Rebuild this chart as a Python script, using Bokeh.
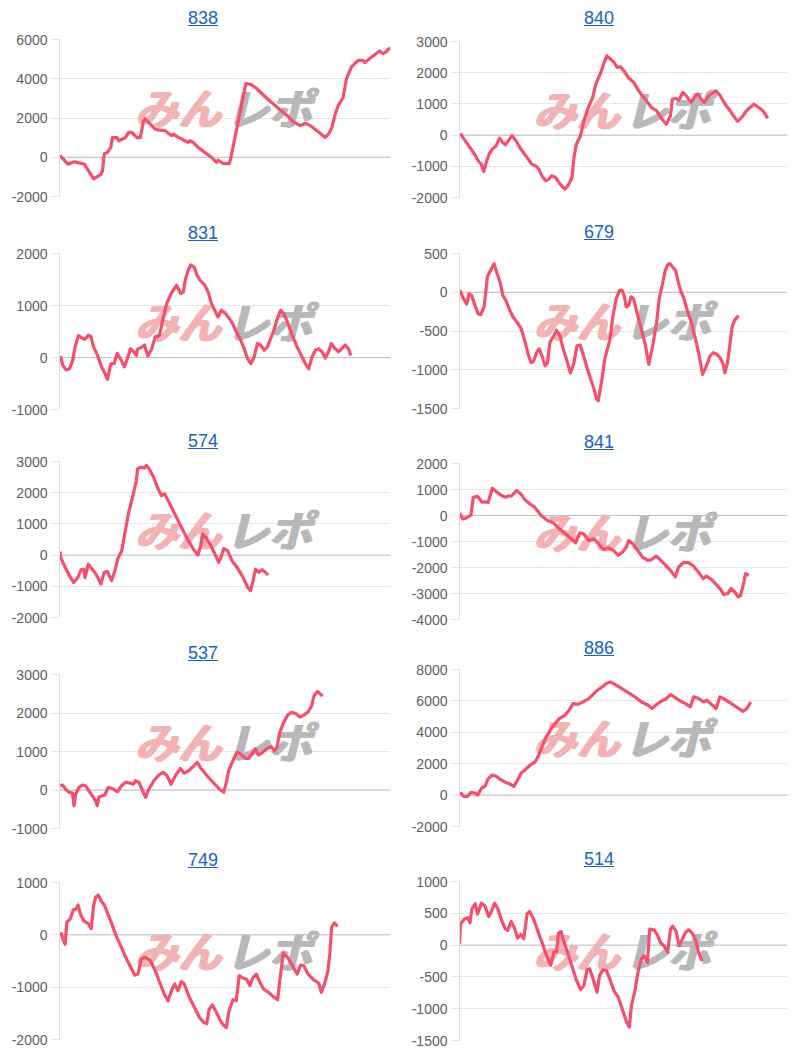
from bokeh.plotting import figure
from bokeh.layouts import column, row
from bokeh.models import Range1d, FixedTicker, Span, Label, Div, CustomJSTickFormatter
from bokeh.embed import file_html
from bokeh.resources import INLINE
import numpy as np

# ---------------- DATA ----------------
# x: progress through the day (% of the chart width), y: medal difference
X_838 = [0.2, 2.5, 4.5, 7.5, 10.3, 12.5, 13.0, 13.5, 14.5, 15.5, 16.0, 17.4, 17.9, 18.9, 19.9, 20.9, 21.9, 23.4,
         24.4, 25.4, 25.9, 27.4, 28.9, 29.9, 31.9, 33.9, 34.4, 35.9, 37.9, 38.9, 39.4, 40.4, 41.9, 43.9, 45.9,
         47.4, 47.9, 49.4, 51.3, 51.8, 56.3, 57.8, 59.3, 62.8, 65.8, 68.8, 70.8, 72.8, 74.3, 75.8, 77.8, 80.3,
         81.3, 82.3, 83.3, 84.2, 85.7, 86.7, 88.2, 90.2, 91.7, 92.2, 93.7, 95.7, 96.7, 97.7, 98.7, 99.2, 100.0]
Y_838 = [80, -350, -230, -350, -1100, -870, -690, 170, 250, 500, 1000, 1000, 840, 920, 1000, 1270, 1270, 1000,
         1000, 1860, 1950, 1690, 1440, 1390, 1350, 1100, 1180, 1010, 840, 760, 840, 760, 500, 250, 0,
         -260, -150, -320, -320, 0, 3750, 3710, 3540, 2980, 2540, 2120, 1780, 1610, 1730, 1610, 1350, 1010,
         1180, 1520, 2200, 2630, 3060, 4000, 4600, 4940, 4940, 4820, 5030, 5280, 5420, 5280, 5370, 5490, 5570]

X_840 = [0.2, 1.7, 3.2, 4.7, 5.7, 6.7, 7.4, 8.0, 9.0, 10.0, 11.2, 12.2, 13.2, 14.0, 15.0, 16.0, 17.2, 18.7, 20.2,
         22.0, 23.2, 24.2, 25.1, 26.3, 27.3, 28.1, 29.3, 30.5, 32.1, 33.1, 34.3, 34.9, 35.6, 36.9, 37.9, 39.1,
         40.6, 41.6, 42.9, 44.1, 44.9, 46.1, 47.1, 48.1, 49.1, 50.1, 51.6, 53.1, 54.6, 56.6, 58.6, 60.1, 62.1,
         63.1, 64.3, 64.9, 65.9, 66.9, 68.1, 69.1, 70.6, 71.6, 72.6, 73.7, 74.6, 76.0, 78.2, 79.5, 81.0, 82.5,
         83.5, 84.8, 86.0, 87.5, 88.5, 89.8, 91.0, 92.5, 94.0]
Y_840 = [50, -180, -400, -630, -820, -950, -1170, -930, -610, -450, -340, -100, -240, -310, -160, -20, -180, -450,
         -660, -930, -980, -1090, -1300, -1460, -1410, -1300, -1360, -1550, -1730, -1620, -1360, -720, -300, -20,
         460, 840, 1210, 1640, 1960, 2330, 2540, 2430, 2330, 2170, 2190, 2060, 1830, 1690, 1420, 1150, 880, 780,
         460, 350, 620, 1150, 1180, 1120, 1370, 1260, 1050, 1210, 1320, 1150, 1050, 1260, 1420, 1260, 990, 780,
         620, 440, 560, 780, 880, 990, 900, 780, 540]

X_831 = [0.2, 1.0, 2.0, 3.0, 4.0, 4.7, 5.7, 7.0, 7.7, 8.7, 9.5, 10.3, 11.5, 12.7, 13.5, 14.5, 15.5, 16.5, 17.4,
         18.4, 19.6, 20.2, 21.4, 22.4, 23.2, 23.6, 24.9, 25.7, 26.7, 27.9, 28.9, 30.2, 31.4, 32.4, 33.9, 35.4,
         36.6, 37.4, 38.0, 38.7, 39.6, 40.7, 41.6, 42.4, 43.9, 44.9, 45.9, 46.9, 47.9, 48.9, 50.1, 51.3, 52.3,
         53.3, 54.5, 55.8, 56.8, 57.8, 58.8, 59.8, 60.8, 61.8, 62.8, 63.8, 64.8, 65.8, 66.8, 67.8, 68.8, 70.3,
         71.8, 73.3, 74.3, 75.3, 76.3, 77.3, 78.3, 79.3, 80.3, 81.3, 82.1, 83.3, 84.3, 85.3, 86.3, 87.3, 88.0]
Y_831 = [30, -150, -240, -220, -50, 200, 420, 370, 350, 430, 400, 200, 40, -180, -280, -420, -120, -120, 80,
         -20, -180, -80, 170, 110, 40, 160, 200, 240, 30, 170, 400, 420, 780, 1040, 1250, 1390,
         1230, 1260, 1490, 1650, 1780, 1740, 1580, 1490, 1390, 1260, 1040, 910, 780, 910, 850, 750, 650,
         510, 370, 170, -20, -120, 10, 270, 240, 140, 200, 370, 530, 750, 910, 830, 690, 430,
         200, 10, -120, -220, 10, 140, 170, 110, -10, 110, 270, 170, 110, 170, 240, 170, 40]

X_679 = [0.2, 0.9, 2.2, 2.9, 3.7, 4.7, 5.7, 6.5, 7.5, 7.9, 8.5, 9.7, 10.5, 11.5, 12.5, 13.2, 14.2, 15.3, 16.3,
         17.6, 18.8, 20.0, 20.8, 21.8, 22.6, 23.6, 24.3, 25.3, 26.1, 26.8, 27.6, 28.8, 29.6, 30.6, 31.6, 32.8,
         33.8, 34.8, 35.8, 36.8, 37.8, 39.0, 40.0, 41.0, 41.8, 42.3, 43.3, 44.3, 45.8, 46.8, 47.8, 48.8, 49.6,
         50.3, 50.8, 51.6, 52.3, 53.0, 53.8, 55.4, 56.7, 57.7, 58.9, 60.1, 60.9, 61.9, 62.7, 63.4, 64.1, 64.9,
         65.9, 66.7, 67.4, 68.4, 69.4, 70.7, 71.9, 72.9, 74.1, 75.1, 76.4, 77.4, 78.4, 79.4, 80.4, 80.9, 81.7,
         82.4, 83.1, 83.9, 85.1]
Y_679 = [25, -60, -150, -20, -40, -170, -280, -290, -190, -40, 200, 300, 370, 240, 110, -40, -110, -230, -320,
         -390, -470, -640, -780, -910, -890, -770, -730, -840, -950, -910, -640, -560, -490, -560, -730, -890,
         -1040, -930, -690, -680, -820, -990, -1120, -1250, -1380, -1400, -1160, -860, -620, -300, -80, 25, 25,
         -60, -190, -170, -60, -75, -210, -470, -690, -930, -690, -390, -80, 110, 280, 350, 370, 330,
         280, 130, 25, -80, -230, -390, -600, -780, -1060, -970, -820, -780, -800, -840, -930, -1040, -910,
         -690, -450, -360, -300]

X_574 = [0.2, 0.3, 1.5, 3.0, 4.3, 5.5, 6.5, 7.3, 7.7, 8.7, 9.7, 11.0, 12.5, 13.5, 14.5, 15.7, 16.6, 17.6, 18.8,
         19.8, 20.9, 22.2, 23.2, 23.6, 24.6, 25.6, 26.3, 27.1, 28.4, 29.8, 30.8, 31.8, 33.1, 34.6, 36.6, 38.6,
         40.4, 41.8, 42.7, 43.2, 44.2, 45.5, 46.7, 48.1, 48.8, 49.6, 50.8, 52.1, 53.7, 55.5, 56.9, 57.7, 58.5,
         59.2, 60.2, 61.2, 62.2, 63.0]
Y_574 = [110, -70, -340, -660, -880, -720, -470, -450, -720, -290, -430, -610, -930, -550, -530, -820, -550, -120, 140,
         730, 1370, 1910, 2390, 2770, 2820, 2790, 2870, 2760, 2500, 2120, 1910, 1960, 1690, 1370, 940, 520,
         200, 0, 300, 670, 570, 350, 90, -230, -70, 210, 140, -180, -400, -720, -1040, -1140, -820,
         -450, -550, -470, -550, -640]

X_841 = [0.0, 1.0, 2.0, 3.5, 4.2, 5.5, 6.9, 7.9, 8.7, 10.0, 11.5, 12.9, 14.2, 14.9, 15.7, 17.4, 18.7, 19.9, 21.4,
         22.9, 24.9, 26.9, 28.4, 29.9, 31.4, 32.9, 34.1, 35.4, 36.7, 37.9, 39.4, 41.1, 42.4, 43.9, 45.4, 46.9,
         48.4, 49.7, 50.9, 51.6, 52.8, 54.3, 55.8, 57.3, 58.3, 60.0, 61.3, 62.8, 64.3, 65.8, 66.8, 68.3, 69.8,
         71.3, 72.8, 74.3, 75.3, 76.8, 78.3, 79.6, 80.6, 81.8, 82.8, 83.9, 84.9, 85.7, 86.7, 87.2, 88.2]
Y_841 = [100, -130, -100, 20, 700, 740, 510, 530, 490, 1050, 890, 760, 700, 760, 740, 960, 830, 610, 450,
         320, 0, -200, -260, -450, -620, -770, -900, -1050, -670, -710, -960, -900, -1090, -1310, -1250, -1340,
         -1530, -1400, -1210, -960, -1090, -1340, -1600, -1720, -1720, -1560, -1720, -1910, -2110, -2360, -1980, -1810, -1810,
         -1940, -2170, -2430, -2330, -2460, -2660, -2840, -3040, -3000, -2810, -2940, -3130, -3070, -2560, -2240, -2300]

X_537 = [0.2, 0.9, 1.9, 2.9, 3.9, 4.4, 4.9, 5.9, 6.9, 7.9, 8.9, 9.9, 10.9, 11.4, 11.9, 12.9, 13.7, 14.7, 15.9,
         17.5, 18.7, 20.0, 21.3, 22.3, 23.0, 24.0, 25.0, 26.0, 27.0, 28.5, 30.0, 31.3, 32.5, 33.7, 35.0, 36.5,
         37.6, 39.0, 40.4, 41.6, 42.6, 44.6, 46.6, 48.6, 49.6, 50.4, 51.1, 52.4, 53.6, 54.6, 56.1, 57.1, 58.2,
         59.1, 60.1, 61.1, 62.7, 63.9, 64.9, 65.7, 66.5, 67.7, 68.9, 70.2, 71.5, 72.7, 73.9, 75.2, 76.2, 76.9,
         77.9, 78.7, 79.5]
Y_537 = [110, 130, 20, -60, -80, -410, -110, 70, 130, 110, -20, -150, -280, -410, -190, -150, -130, 70, 40,
         -50, 110, 200, 180, 150, 240, 200, 0, -190, 20, 240, 390, 460, 370, 150, 370, 560,
         440, 500, 610, 720, 580, 370, 180, 0, -60, 200, 500, 760, 980, 940, 820, 820, 940,
         1070, 910, 960, 1070, 1130, 1020, 1110, 1480, 1750, 1940, 2020, 1980, 1890, 1950, 2040, 2190, 2450,
         2560, 2500, 2440]

X_886 = [0.2, 1.2, 2.5, 3.5, 4.7, 5.5, 6.7, 7.9, 8.7, 9.9, 11.2, 12.6, 14.1, 15.4, 16.6, 17.6, 18.8, 20.1, 21.6,
         23.1, 24.1, 25.1, 26.4, 27.6, 29.1, 30.4, 32.1, 33.4, 34.6, 36.1, 37.6, 39.1, 40.5, 42.0, 43.5, 44.7,
         46.0, 47.5, 49.5, 51.5, 53.5, 55.5, 57.5, 58.7, 60.0, 61.5, 63.1, 64.4, 65.9, 67.4, 68.9, 70.4, 71.4,
         72.9, 74.4, 75.4, 76.9, 78.2, 79.4, 80.9, 82.9, 84.9, 86.4, 87.6, 88.8]
Y_886 = [180, -80, -80, 180, 130, 0, 430, 600, 1030, 1280, 1200, 980, 810, 710, 560, 920, 1410, 1620, 1920,
         2130, 2520, 3050, 3690, 4120, 4540, 4870, 5080, 5400, 5830, 5780, 5930, 6100, 6360, 6680, 6890, 7100,
         7210, 7040, 6780, 6530, 6250, 5930, 5720, 5510, 5760, 5980, 6150, 6410, 6190, 5980, 5830, 5620, 6260,
         6150, 5940, 6050, 5760, 5510, 6260, 6100, 5830, 5550, 5330, 5510, 5930]

X_749 = [0.4, 1.2, 1.7, 2.2, 3.2, 4.2, 5.1, 5.6, 6.3, 7.3, 8.6, 9.6, 10.3, 10.9, 11.7, 12.6, 13.6, 14.6, 15.8,
         17.0, 18.5, 20.0, 21.5, 22.7, 23.7, 24.7, 25.9, 27.4, 28.9, 30.3, 31.6, 32.8, 34.0, 34.8, 35.8, 36.8,
         37.7, 39.2, 40.7, 42.2, 43.5, 44.5, 45.2, 46.2, 47.4, 48.6, 49.6, 50.4, 51.1, 52.4, 53.4, 54.3, 55.5,
         56.5, 57.5, 58.5, 59.5, 60.5, 61.7, 63.2, 64.6, 65.9, 66.6, 67.6, 68.9, 70.4, 71.8, 72.8, 73.8, 75.1,
         76.8, 78.3, 79.1, 80.2, 81.1, 81.7, 82.2, 83.0, 84.0]
Y_749 = [50, -110, -180, 240, 300, 480, 500, 570, 400, 270, 220, 120, 560, 720, 760, 650, 560, 400, 210,
         0, -210, -430, -620, -770, -750, -460, -430, -490, -680, -910, -1130, -1260, -1040, -940, -1070, -890,
         -940, -1190, -1380, -1570, -1670, -1700, -1420, -1340, -1480, -1640, -1730, -1770, -1480, -1240, -1260, -780, -830,
         -850, -970, -810, -750, -900, -1040, -1100, -1180, -1240, -850, -350, -430, -590, -750, -580, -590, -750,
         -860, -920, -1100, -910, -690, -340, 140, 230, 160]

X_514 = [0.0, 0.3, 1.5, 2.5, 3.2, 3.8, 4.8, 5.5, 6.7, 7.7, 8.9, 9.7, 10.7, 11.7, 12.9, 13.9, 14.7, 15.7, 16.7,
         17.7, 18.7, 19.6, 20.6, 21.4, 22.6, 23.8, 25.3, 26.6, 27.8, 28.8, 29.6, 30.2, 31.0, 31.7, 32.9, 34.2,
         35.5, 36.9, 37.9, 38.9, 39.7, 40.7, 41.9, 42.7, 43.7, 44.8, 45.8, 47.1, 48.4, 49.6, 50.8, 51.8, 52.4,
         53.4, 54.4, 55.4, 56.3, 57.3, 58.0, 59.3, 60.3, 61.3, 62.3, 63.5, 64.3, 65.0, 66.0, 67.0, 67.9, 68.9,
         69.9, 70.9, 71.9, 72.9, 73.9]
Y_514 = [20, 330, 410, 430, 350, 570, 650, 490, 660, 620, 450, 530, 660, 570, 380, 260, 230, 370, 280,
         110, 170, 100, 490, 530, 410, 230, 20, -170, -320, -110, -100, 190, 210, 70, -110, -320,
         -530, -700, -640, -390, -370, -530, -740, -480, -390, -400, -530, -720, -820, -1000, -1190, -1290, -950,
         -740, -430, -220, -170, -270, 250, 240, 160, 40, -10, -110, 250, 300, 220, -10, 90, 200,
         240, 190, 90, -110, -250]

TITLES = ["838", "840", "831", "679", "574", "841", "537", "886", "749", "514"]
SERIES_X = [X_838, X_840, X_831, X_679, X_574, X_841, X_537, X_886, X_749, X_514]
SERIES_Y = [Y_838, Y_840, Y_831, Y_679, Y_574, Y_841, Y_537, Y_886, Y_749, Y_514]
Y_MIN = [-2000, -2000, -1000, -1500, -2000, -4000, -1000, -2000, -2000, -1500]
Y_MAX = [6000, 3000, 2000, 500, 3000, 2000, 3000, 8000, 1000, 1000]
Y_STEP = [2000, 1000, 1000, 500, 1000, 1000, 1000, 2000, 1000, 500]

# ---------------- LAYOUT / STYLE ----------------
LEFT_W, RIGHT_W = 390, 386
# (border_left, border_right, border_top, frame_height, border_bottom)
LAYOUT = [
    (48, 7, 11, 157, 27),   # 838
    (48, 4, 13, 156, 25),   # 840
    (49, 7, 10, 156, 22),   # 831
    (53, 2, 11, 155, 24),   # 679
    (49, 8, 10, 156, 26),   # 574
    (49, 3, 11, 156, 19),   # 841
    (50, 8, 11, 154, 22),   # 537
    (48, 5, 11, 157, 23),   # 886
    (48, 8, 12, 157, 9),    # 749
    (48, 5, 12, 159, 8),    # 514
]
LINE_COLOR = "#f54f6b"
GRID_COLOR = "#e6e6e6"
LABEL_FONT = "Liberation Sans"


def title_div(txt, w):
    html = (f'<div style="width:{w}px;height:20px;line-height:20px;text-align:center;">'
            f'<a href="#" style="color:#1a62c6;text-decoration:underline;'
            f'font-family:\'Liberation Sans\',Arial,sans-serif;font-size:18px;">{txt}</a></div>')
    return Div(text=html, width=w, height=20, margin=0)


def watermark(p, x, y, text, align, dx, color):
    for off in (0.0, 1.2, 2.4):
        p.add_layout(Label(x=x, y=y, text=text, text_align=align, text_baseline="middle",
                           x_offset=dx + off, text_font="Noto Sans CJK JP",
                           text_font_style="bold italic", text_font_size="43px",
                           text_color=color, level="underlay"))


def make_panel(i, cell_w):
    bl, br, bt, fh, bb = LAYOUT[i]
    ylo, yhi, ystep = Y_MIN[i], Y_MAX[i], Y_STEP[i]
    p = figure(width=cell_w, height=bt + fh + bb, output_backend="svg", toolbar_location=None,
               tools="", x_range=Range1d(0, 100), y_range=Range1d(ylo, yhi),
               x_axis_location=None, min_border_left=bl, min_border_right=br,
               min_border_top=bt, min_border_bottom=bb, outline_line_color=None,
               background_fill_color="white", border_fill_color="white", margin=0)
    ticks = [int(t) for t in np.arange(ylo, yhi + ystep / 2, ystep)]
    p.yaxis.ticker = FixedTicker(ticks=ticks)
    p.ygrid.ticker = FixedTicker(ticks=ticks)
    p.yaxis.formatter = CustomJSTickFormatter(code="return tick.toFixed(0);")
    p.xgrid.visible = False
    p.ygrid.grid_line_color = GRID_COLOR
    p.yaxis.axis_line_color = "#dcdcdc"
    p.yaxis.major_tick_line_color = GRID_COLOR
    p.yaxis.major_tick_out = 9
    p.yaxis.major_tick_in = 0
    p.yaxis.minor_tick_out = 0
    p.yaxis.minor_tick_in = 0
    p.yaxis.major_label_standoff = 3
    p.yaxis.major_label_text_font = LABEL_FONT
    p.yaxis.major_label_text_font_size = "14px"
    p.yaxis.major_label_text_color = "#5e5e5e"

    # watermark (logo), drawn behind the data line
    wm_y = ylo + 0.575 * (yhi - ylo)
    watermark(p, 50, wm_y, "みん", "right", -5, "#f1b3b3")
    watermark(p, 50, wm_y, "レポ", "left", 0, "#b8b8b8")

    p.add_layout(Span(location=0, dimension="width", line_color="#c2c2c2", line_width=1,
                      level="underlay"))

    p.line(SERIES_X[i], SERIES_Y[i], line_color=LINE_COLOR, line_width=3.2, line_join="round")
    return p


left_items, right_items = [], []
for i, t in enumerate(TITLES):
    w = LEFT_W if i % 2 == 0 else RIGHT_W
    items = left_items if i % 2 == 0 else right_items
    items.append(title_div(t, w))
    items.append(make_panel(i, w))

layout = row(column(*left_items, spacing=0), column(*right_items, spacing=0), spacing=8,
             margin=(8, 0, 0, 8))

open("out.html", "w").write(file_html(layout, INLINE))
